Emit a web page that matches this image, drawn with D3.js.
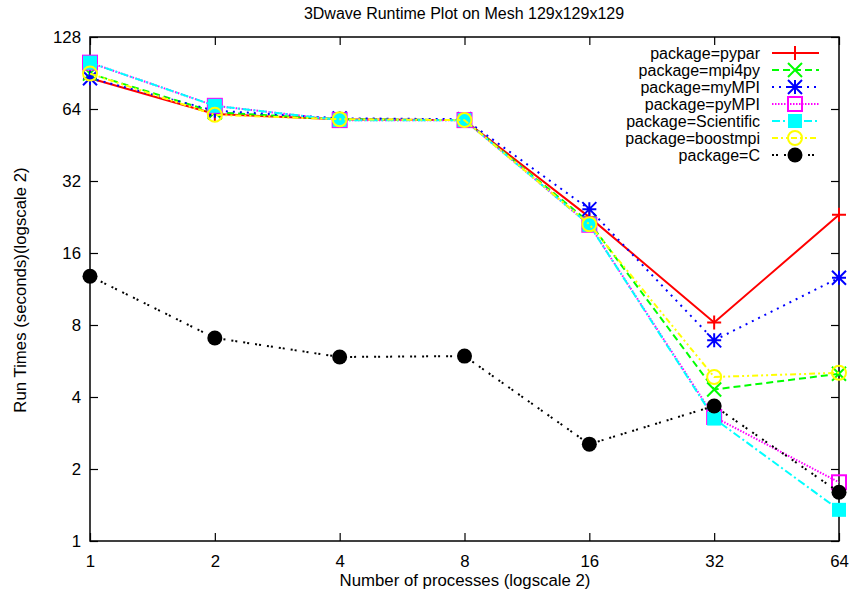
<!DOCTYPE html>
<html><head><meta charset="utf-8">
<script src="https://cdn.jsdelivr.net/npm/d3@7"></script>
<style>body{margin:0;background:#fff}svg{display:block}text{font-family:"Liberation Sans",Arial,sans-serif}</style>
</head><body><svg id="c" width="852" height="598"></svg>
<script>
const procs = [1, 2, 4, 8, 16, 32, 64];
const yTicks = [1, 2, 4, 8, 16, 32, 64, 128];
const pypar      = [86, 61, 58, 57.5, 22.6, 8.2, 23.1];
const mpi4py     = [90, 62, 58, 57.5, 21.5, 4.3, 5.0];
const myMPI      = [86, 63, 58.5, 58, 24.4, 6.9, 12.6];
const pyMPI      = [100, 66, 57.5, 57.5, 21, 3.3, 1.76];
const scientific = [100, 66, 57.5, 57.5, 21, 3.25, 1.35];
const boostmpi   = [90, 60.5, 58, 57.5, 21.1, 4.85, 5.05];
const cpkg       = [12.8, 7.06, 5.88, 5.93, 2.54, 3.67, 1.6];
const names = ["package=pypar","package=mpi4py","package=myMPI","package=pyMPI","package=Scientific","package=boostmpi","package=C"];

const series = [
 {name:names[0], vals:pypar, color:"#ff0000", dash:null, marker:"plus"},
 {name:names[1], vals:mpi4py, color:"#00ff00", dash:"7,4", marker:"cross"},
 {name:names[2], vals:myMPI, color:"#0000ff", dash:"2,5", marker:"star"},
 {name:names[3], vals:pyMPI, color:"#ff00ff", dash:"1.5,1.5", marker:"square"},
 {name:names[4], vals:scientific, color:"#00ffff", dash:"8,3,2,3", marker:"fsquare"},
 {name:names[5], vals:boostmpi, color:"#ffff00", dash:"6,3,2,3,2,3", marker:"circle"},
 {name:names[6], vals:cpkg, color:"#000000", dash:"2,2,2,6", marker:"fcircle"}
];

const L=90,R=839,T=37,B=541;
const svg=d3.select("#c");
const x=d3.scaleLog().base(2).domain([1,64]).range([L,R]);
const y=d3.scaleLog().base(2).domain([1,128]).range([B,T]);

const fs=16, fl=16.8;
svg.append("text").attr("x",464).attr("y",19).attr("text-anchor","middle").attr("font-size",fs).text("3Dwave Runtime Plot on Mesh 129x129x129");
svg.append("text").attr("x",465).attr("y",586).attr("text-anchor","middle").attr("font-size",fl).text("Number of processes (logscale 2)");
svg.append("text").attr("transform","translate(26,290) rotate(-90)").attr("text-anchor","middle").attr("font-size",fl).text("Run Times (seconds)(logscale 2)");

const tk=8;
const axB=svg.append("g").attr("transform",`translate(0,${B})`).call(d3.axisBottom(x).tickValues(procs).tickFormat(d3.format("d")).tickSize(-tk).tickPadding(tk+6));
const axT=svg.append("g").attr("transform",`translate(0,${T})`).call(d3.axisTop(x).tickValues(procs).tickFormat("").tickSize(-tk));
const axL=svg.append("g").attr("transform",`translate(${L},0)`).call(d3.axisLeft(y).tickValues(yTicks).tickFormat(d3.format("d")).tickSize(-tk).tickPadding(tk+1));
const axR=svg.append("g").attr("transform",`translate(${R},0)`).call(d3.axisRight(y).tickValues(yTicks).tickFormat("").tickSize(-tk));
[axB,axT,axL,axR].forEach(a=>{a.select(".domain").remove();a.selectAll("line").attr("stroke","#000").attr("stroke-width",1.2);a.selectAll("text").attr("font-size",fl).attr("font-family","Liberation Sans, Arial, sans-serif").attr("fill","#000");});
axB.selectAll("text").attr("dy","0.71em");
svg.append("rect").attr("x",L).attr("y",T).attr("width",R-L).attr("height",B-T).attr("fill","none").attr("stroke","#000").attr("stroke-width",1.5);

function marker(g,type,cx,cy,color){
  const s=7;
  if(type==="plus"){
    g.append("path").attr("d",`M${cx-s},${cy}H${cx+s}M${cx},${cy-s}V${cy+s}`).attr("stroke",color).attr("stroke-width",2).attr("fill","none");
  } else if(type==="cross"){
    g.append("path").attr("d",`M${cx-s},${cy-s}L${cx+s},${cy+s}M${cx-s},${cy+s}L${cx+s},${cy-s}`).attr("stroke",color).attr("stroke-width",2).attr("fill","none");
  } else if(type==="star"){
    g.append("path").attr("d",`M${cx-s},${cy}H${cx+s}M${cx},${cy-s}V${cy+s}M${cx-s},${cy-s}L${cx+s},${cy+s}M${cx-s},${cy+s}L${cx+s},${cy-s}`).attr("stroke",color).attr("stroke-width",2).attr("fill","none");
  } else if(type==="square"){
    g.append("rect").attr("x",cx-s).attr("y",cy-s).attr("width",2*s).attr("height",2*s).attr("stroke",color).attr("stroke-width",2).attr("fill","none");
  } else if(type==="fsquare"){
    g.append("rect").attr("x",cx-s).attr("y",cy-s).attr("width",2*s).attr("height",2*s).attr("fill",color);
  } else if(type==="circle"){
    g.append("circle").attr("cx",cx).attr("cy",cy).attr("r",s).attr("stroke",color).attr("stroke-width",2).attr("fill","none");
  } else if(type==="fcircle"){
    g.append("circle").attr("cx",cx).attr("cy",cy).attr("r",s+0.5).attr("fill",color);
  }
}

const line=d3.line().x((d,i)=>x(procs[i])).y(d=>y(d));
series.forEach((s,k)=>{
  const g=svg.append("g");
  g.append("path").attr("d",line(s.vals)).attr("fill","none").attr("stroke",s.color).attr("stroke-width",2).attr("stroke-dasharray",s.dash);
  s.vals.forEach((v,i)=>marker(g,s.marker,x(procs[i]),y(v),s.color));
  const ly=53+k*17;
  g.append("text").attr("x",760).attr("y",ly).attr("dy","0.35em").attr("text-anchor","end").attr("font-size",fs).text(s.name);
  g.append("line").attr("x1",772).attr("x2",819).attr("y1",ly).attr("y2",ly).attr("stroke",s.color).attr("stroke-width",2).attr("stroke-dasharray",s.dash);
  marker(g,s.marker,795,ly,s.color);
});
</script></body></html>
